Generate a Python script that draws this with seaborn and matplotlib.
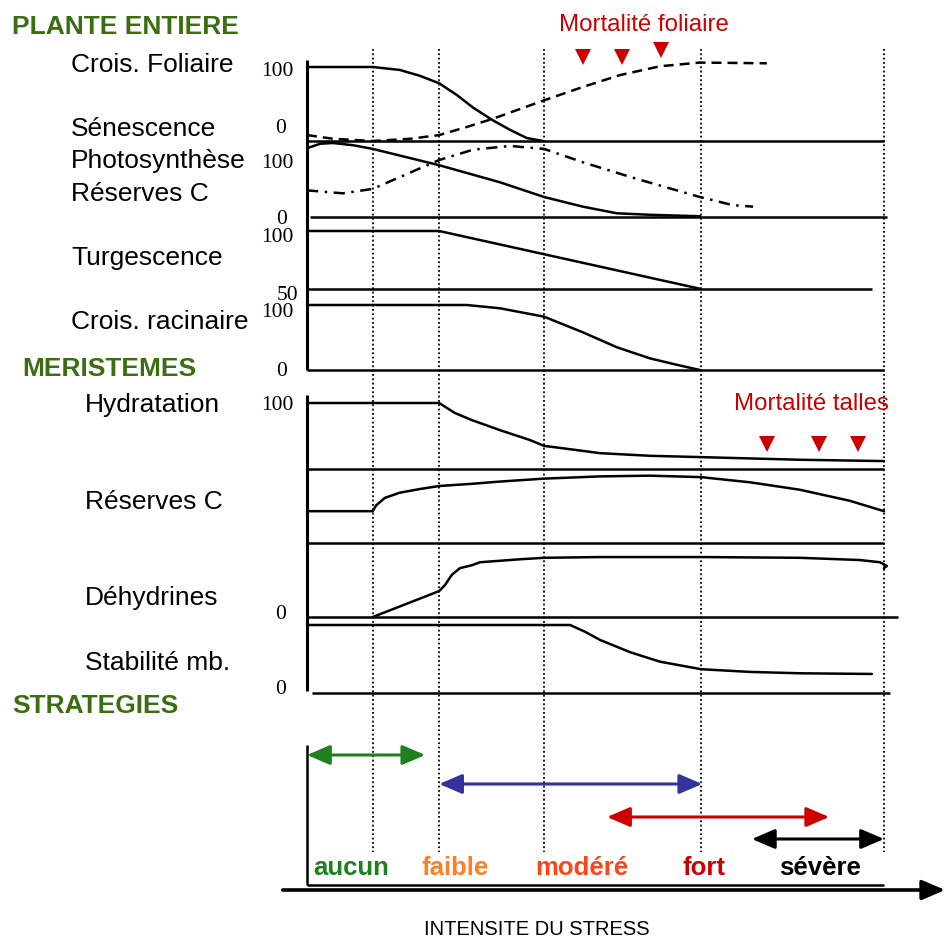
import matplotlib
matplotlib.use("Agg")
import matplotlib.pyplot as plt
import seaborn as sns

# stress intensity scale: 0 = left axis, 100 = last dotted line
BOUNDS = [11.4, 22.9, 41.1, 68.3, 100]

# --- plante entiere
FOL_X = [0, 11.4, 16.1, 19.6, 22.9, 26.0, 28.8, 32.2, 35.2, 38.1, 40.9]
FOL_Y = [100, 100, 96, 88, 78, 62, 45, 28, 15, 4, 0]
SEN_X = [0, 4.5, 11.4, 17.9, 22.9, 27.7, 32.2, 41.1, 47.8, 54.2, 61.2, 68.1, 79.7]
SEN_Y = [8, 3, 0, 3, 8, 19, 30, 55, 73, 89, 101, 106, 105]
PHO_X = [0, 2.3, 4.5, 8.0, 11.4, 22.9, 33.4, 41.1, 47.8, 53.7, 59.4, 68.1]
PHO_Y = [93, 99, 100, 97, 92, 70, 47, 27, 14, 5, 3, 1]
RES_X = [0, 6.2, 11.4, 16.1, 22.9, 28.8, 35.2, 41.1, 47.8, 56.5, 68.1, 73.8, 77.3]
RES_Y = [36, 32, 38, 54, 77, 91, 96, 92, 74, 53, 27, 16, 14]
TUR_X = [0, 22.9, 68.3]
TUR_Y = [100, 100, 50]
RAC_X = [0, 27.7, 33.4, 41.1, 47.8, 53.7, 59.4, 64.1, 68.1]
RAC_Y = [100, 100, 95, 82, 58, 35, 18, 8, 0]

# --- meristemes
HYD_X = [0, 22.9, 25.6, 28.6, 33.4, 38.6, 41.1, 43.8, 50.8, 59.4, 68.3, 85.4, 100]
HYD_Y = [100, 100, 85, 74, 59, 44, 35, 32, 24, 20, 18, 14, 12]
RSM_X = [0, 11.4, 11.6, 12.0, 13.5, 16.1, 19.6, 22.9, 28.6, 33.4, 41.1, 50.8, 59.4, 68.3, 76.8, 85.4, 94.1, 100]
RSM_Y = [43, 43, 46, 51, 61, 68, 73, 77, 80, 83, 87, 90, 91, 89, 82, 72, 57, 43]
DEH_X = [11.4, 22.9, 23.9, 25.1, 26.5, 28.6, 30.0, 36.9, 41.1, 50.8, 68.3, 85.4, 95.8, 99.3, 100.5, 100]
DEH_Y = [0, 35, 43, 57, 66, 70, 74, 78, 80, 81, 81, 80, 77, 74, 69, 66]
STA_X = [0, 45.6, 48.2, 50.8, 56.0, 61.2, 68.3, 76.8, 85.4, 97.9]
STA_Y = [100, 100, 90, 78, 60, 46, 35, 31, 29, 28]

# --- mortalite
MORT_FOL_X = [47.8, 54.6, 61.4]
MORT_TAL_X = [79.7, 88.7, 95.5]

# --- strategies
STRAT_START = [0, 22.9, 52.0, 77.1]
STRAT_END = [20.5, 68.5, 90.5, 100]
STRAT_COLORS = ["#1e801e", "#333399", "#cc0000", "black"]
STAGE_NAMES = ["aucun", "faible", "modéré", "fort", "sévère"]
STAGE_X = [7.6, 25.6, 47.7, 68.8, 88.9]
STAGE_COLORS = ["#1e801e", "#ff7f27", "#ff4516", "#cc0000", "black"]

W, H = 944, 938
X0, PX_UNIT = 307, 5.77
XL, XR = -X0 / PX_UNIT, (W - X0) / PX_UNIT
GREEN = "#3b6e11"
RED = "#cc0000"

sns.set_style("white")
plt.rcParams["font.family"] = ["Liberation Sans", "DejaVu Sans"]
plt.rcParams["text.color"] = "black"

fig = plt.figure(figsize=(W / 100, H / 100), dpi=100)

bg = fig.add_axes([0, 0, 1, 1])
bg.set_xlim(XL, XR)
bg.set_ylim(H, 0)
bg.axis("off")


def panel(px_lo, px_hi, v_lo, v_hi):
    ax = fig.add_axes([0, 1 - px_lo / H, 1, (px_lo - px_hi) / H])
    ax.set_xlim(XL, XR)
    ax.set_ylim(v_lo, v_hi)
    ax.axis("off")
    return ax


def curve(ax, x, y, ls="-"):
    sns.lineplot(x=x, y=y, ax=ax, color="black", lw=1.8, linestyle=ls,
                 sort=False, estimator=None, clip_on=False)


# dotted boundaries between stress levels
bg.vlines(BOUNDS, 49, 852, colors="black", lw=1.3, linestyles=(0, (1, 1.4)))

# vertical axes
bg.vlines(0, 60, 370, colors="black", lw=2.2)
bg.vlines(0, 395, 691, colors="black", lw=2.2)
bg.vlines(0, 745, 885, colors="black", lw=1.8)
bg.hlines(885, 0, 100, colors="black", lw=1.8)

pA = panel(141, 67, 0, 100)
pB = panel(217, 143, 0, 100)
pC = panel(289, 231, 50, 100)
pD = panel(370, 305, 0, 100)
pE = panel(469, 403, 0, 100)
pF = panel(543, 469, 0, 100)
pG = panel(617, 543, 0, 100)
pH = panel(693, 625, 0, 100)

for ax, v, a, b in [(pA, 0, 0, 100), (pB, 0, 0.5, 100.5), (pC, 50, 0, 97.9),
                    (pD, 0, 0, 100), (pE, 0, 0, 100), (pF, 0, 0, 100),
                    (pG, 0, 0, 102.4), (pH, 0, 0.9, 101)]:
    ax.hlines(v, a, b, colors="black", lw=1.8, clip_on=False)

curve(pA, FOL_X, FOL_Y)
curve(pA, SEN_X, SEN_Y, (0, (4, 2.4)))
curve(pB, PHO_X, PHO_Y)
curve(pB, RES_X, RES_Y, (0, (4.5, 2.6, 1, 2.6)))
curve(pC, TUR_X, TUR_Y)
curve(pD, RAC_X, RAC_Y)
curve(pE, HYD_X, HYD_Y)
curve(pF, RSM_X, RSM_Y)
curve(pG, DEH_X, DEH_Y)
curve(pH, STA_X, STA_Y)

# mortality markers
bg.plot(MORT_FOL_X, [57, 57, 50], ls="none", marker="v", ms=11.5, color=RED, mew=0)
bg.plot(MORT_TAL_X, [444] * 3, ls="none", marker="v", ms=11.5, color=RED, mew=0)
bg.text(58.4, 31, "Mortalité foliaire", color=RED, fontsize=17.3, ha="center")
bg.text(87.4, 410, "Mortalité talles", color=RED, fontsize=17.3, ha="center")

# section titles and row labels
for txt, x, y in [("PLANTE ENTIERE", 12, 34), ("MERISTEMES", 22, 376), ("STRATEGIES", 12, 713)]:
    bg.text((x - X0) / PX_UNIT, y, txt, color=GREEN, fontsize=19, fontweight="bold")
for txt, x, y in [("Crois. Foliaire", 71, 72), ("Sénescence", 71, 136),
                  ("Photosynthèse", 71, 168), ("Réserves C", 71, 201),
                  ("Turgescence", 71, 265), ("Crois. racinaire", 71, 329),
                  ("Hydratation", 85, 412), ("Réserves C", 85, 509),
                  ("Déhydrines", 85, 605), ("Stabilité mb.", 85, 670)]:
    bg.text((x - X0) / PX_UNIT, y, txt, fontsize=19)
for txt, x, y in [("100", 277, 76), ("0", 281, 133), ("100", 277, 168), ("0", 282, 224),
                  ("100", 277, 242), ("50", 288, 300), ("100", 277, 317), ("0", 282, 376),
                  ("100", 277, 410), ("0", 281, 619), ("0", 281, 694)]:
    bg.text((x - X0) / PX_UNIT, y, txt, family="Liberation Serif", fontsize=15.5, ha="center")

# strategy arrows
for s0, s1, y, c in zip(STRAT_START, STRAT_END, [755, 784, 817, 839], STRAT_COLORS):
    bg.annotate("", xy=(s1, y), xytext=(s0, y),
                arrowprops=dict(arrowstyle="<|-|>,head_length=0.7,head_width=0.3",
                                color=c, lw=2.2, shrinkA=0, shrinkB=0, mutation_scale=20))
for name, x, c in zip(STAGE_NAMES, STAGE_X, STAGE_COLORS):
    bg.text(x, 875, name, color=c, fontsize=18.5, fontweight="bold", ha="center")

# stress axis
bg.annotate("", xy=(XR + 0.2, 890), xytext=(-4.2, 890), annotation_clip=False,
            arrowprops=dict(arrowstyle="-|>,head_length=0.7,head_width=0.3",
                            color="black", lw=2.6, shrinkA=0, shrinkB=0, mutation_scale=20))
bg.text((537 - X0) / PX_UNIT, 935, "INTENSITE DU STRESS", fontsize=14.5, ha="center")

fig.savefig("out.png", dpi=100)
